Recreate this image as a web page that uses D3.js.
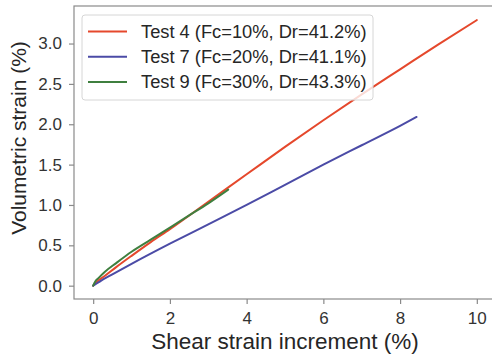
<!DOCTYPE html>
<html>
<head>
<meta charset="utf-8">
<script src="https://cdn.jsdelivr.net/npm/d3@7"></script>
<style>
  body { margin: 0; background: #fff; }
  text { font-family: "Liberation Sans", Arial, sans-serif; fill: #262626; }
</style>
</head>
<body>
<div id="chart"></div>
<script>
var width = 492, height = 355;
var margin = {top: 6, right: -4, bottom: 56, left: 74};

// data
var seriesNames = ["Test 4 (Fc=10%, Dr=41.2%)", "Test 7 (Fc=20%, Dr=41.1%)", "Test 9 (Fc=30%, Dr=43.3%)"];
var seriesColors = ["#e5482c", "#4b4ba6", "#3f7f3f"];
var test4 = [[0,0],[0.1,0.05],[0.3,0.12],[0.6,0.23],[1,0.37],[1.5,0.54],[2,0.70],[3,1.04],[4,1.38],[5,1.72],[6,2.05],[7,2.37],[8,2.68],[9,2.99],[10,3.29]];
var test7 = [[0,0],[0.1,0.03],[0.2,0.06],[0.5,0.14],[1,0.27],[2,0.52],[3,0.76],[4,1.0],[5,1.25],[6,1.5],[7,1.74],[8,1.98],[8.43,2.09]];
var test9 = [[0,0],[0.05,0.05],[0.15,0.1],[0.3,0.17],[0.6,0.28],[1,0.42],[1.5,0.57],[2,0.72],[2.5,0.87],[3,1.02],[3.52,1.19]];
var xTicks = [0, 2, 4, 6, 8, 10];
var yTicks = [0, 0.5, 1.0, 1.5, 2.0, 2.5, 3.0];

var svg = d3.select("#chart").append("svg")
  .attr("width", width)
  .attr("height", height);

var x = d3.scaleLinear().domain([-0.5, 10.5]).range([margin.left, width - margin.right]);
var y = d3.scaleLinear().domain([-0.165, 3.465]).range([height - margin.bottom, margin.top]);

// frame
svg.append("rect")
  .attr("x", x(-0.5)).attr("y", y(3.465))
  .attr("width", x(10.5) - x(-0.5)).attr("height", y(-0.165) - y(3.465))
  .attr("fill", "none").attr("stroke", "#8a8a8a").attr("stroke-width", 1.2);

var xAxis = svg.append("g")
  .attr("transform", "translate(0," + (height - margin.bottom) + ")")
  .call(d3.axisBottom(x).tickValues(xTicks).tickFormat(d3.format("d")).tickSize(5).tickPadding(7.5));
var yAxis = svg.append("g")
  .attr("transform", "translate(" + margin.left + ",0)")
  .call(d3.axisLeft(y).tickValues(yTicks).tickFormat(d3.format(".1f")).tickSize(5).tickPadding(7));

[xAxis, yAxis].forEach(function(a){
  a.select(".domain").remove();
  a.selectAll(".tick line").attr("stroke", "#8a8a8a").attr("stroke-width", 1.2);
  a.selectAll(".tick text").attr("font-size", "17px").style("fill", "#333");
});

var line = d3.line()
  .x(function(d){ return x(d[0]); })
  .y(function(d){ return y(d[1]); })
  .curve(d3.curveMonotoneX);

[test4, test7, test9].forEach(function(s, i){
  svg.append("path")
    .datum(s)
    .attr("d", line)
    .attr("fill", "none")
    .attr("stroke", seriesColors[i])
    .attr("stroke-width", 2)
    .attr("stroke-linecap", "round")
    .attr("stroke-linejoin", "round");
});

// axis labels
svg.append("text")
  .text("Shear strain increment (%)")
  .attr("x", x(5)).attr("y", 349)
  .attr("text-anchor", "middle")
  .attr("font-size", "22.5px");

svg.append("text")
  .text("Volumetric strain (%)")
  .attr("transform", "translate(26,138) rotate(-90)")
  .attr("text-anchor", "middle")
  .attr("font-size", "21px");

// legend
var legend = svg.append("g");
legend.append("rect")
  .attr("x", 82).attr("y", 15)
  .attr("width", 291).attr("height", 85)
  .attr("rx", 3)
  .attr("fill", "#fff").attr("fill-opacity", 0.8)
  .attr("stroke", "#d6d6d6").attr("stroke-width", 1);

seriesNames.forEach(function(name, i){
  var ly = 31.5 + i * 25.2;
  legend.append("line")
    .attr("x1", 88).attr("x2", 127)
    .attr("y1", ly).attr("y2", ly)
    .attr("stroke", seriesColors[i]).attr("stroke-width", 2);
  legend.append("text")
    .text(name)
    .attr("x", 141).attr("y", ly + 6.5)
    .attr("font-size", "18.3px");
});
</script>
</body>
</html>
